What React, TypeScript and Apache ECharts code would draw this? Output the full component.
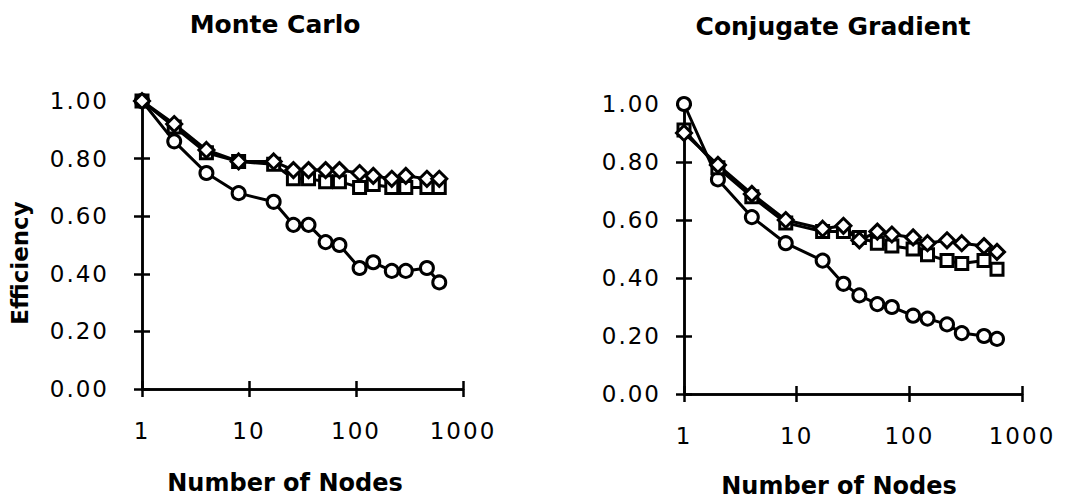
import React, { useEffect, useRef } from 'react';
import * as echarts from 'echarts';

// ---- data ----
const nodes = [1, 2, 4, 8, 17, 26, 36, 52, 70, 108, 145, 216, 292, 460, 600];
const mcCircle = [1.0, 0.86, 0.75, 0.68, 0.65, 0.57, 0.57, 0.51, 0.5, 0.42, 0.44, 0.41, 0.41, 0.42, 0.37];
const mcSquare = [1.0, 0.91, 0.82, 0.79, 0.78, 0.73, 0.73, 0.72, 0.72, 0.7, 0.71, 0.7, 0.7, 0.7, 0.7];
const mcDiamond = [1.0, 0.92, 0.83, 0.79, 0.79, 0.76, 0.76, 0.76, 0.76, 0.75, 0.74, 0.73, 0.74, 0.73, 0.73];
const cgCircle = [1.0, 0.74, 0.61, 0.52, 0.46, 0.38, 0.34, 0.31, 0.3, 0.27, 0.26, 0.24, 0.21, 0.2, 0.19];
const cgSquare = [0.91, 0.78, 0.68, 0.59, 0.56, 0.56, 0.54, 0.52, 0.51, 0.5, 0.48, 0.46, 0.45, 0.46, 0.43];
const cgDiamond = [0.9, 0.79, 0.69, 0.6, 0.57, 0.58, 0.53, 0.56, 0.55, 0.54, 0.52, 0.53, 0.52, 0.51, 0.49];
const titles = ['Monte Carlo', 'Conjugate Gradient'];
const xName = 'Number of Nodes';
const yName = 'Efficiency';
const xMin = 1;
const xMax = 1000;
const yMin = 0;
const yMax = 1;
const yStep = 0.2;

const FONT = '"DejaVu Sans", "Liberation Sans", Arial, sans-serif';
const BLACK = '#000';

const grids = [
  { left: 142, top: 101, width: 321, height: 288, labelMargin: 33 },
  { left: 684, top: 104, width: 338, height: 290, labelMargin: 23 },
];

function makeX(gridIndex: number, inside: boolean) {
  return {
    type: 'log',
    logBase: 10,
    min: xMin,
    max: xMax,
    gridIndex,
    position: 'bottom',
    axisLine: { show: true, lineStyle: { color: BLACK, width: 2.5 } },
    axisTick: { show: true, inside, length: 8, lineStyle: { color: BLACK, width: 2.5 } },
    minorTick: { show: false },
    axisLabel: {
      show: !inside,
      margin: 30,
      color: BLACK,
      fontFamily: FONT,
      fontSize: 23,
      formatter: (v: number) => String(Math.round(v)),
    },
    splitLine: { show: false },
  };
}

function makeY(gridIndex: number, inside: boolean, margin: number) {
  return {
    type: 'value',
    min: yMin,
    max: yMax,
    interval: yStep,
    gridIndex,
    position: 'left',
    axisLine: { show: true, lineStyle: { color: BLACK, width: 2.5 } },
    axisTick: { show: true, inside, length: 8, lineStyle: { color: BLACK, width: 2.5 } },
    axisLabel: {
      show: !inside,
      margin,
      color: BLACK,
      fontFamily: FONT,
      fontSize: 23,
      formatter: (v: number) => v.toFixed(2),
    },
    splitLine: { show: false },
  };
}

function makeSeries(vals: number[], symbol: string, size: number, axisIndex: number) {
  return {
    type: 'line',
    xAxisIndex: axisIndex,
    yAxisIndex: axisIndex,
    data: nodes.map((n, i) => [n, vals[i]]),
    symbol,
    symbolSize: size,
    showAllSymbol: true,
    lineStyle: { color: BLACK, width: 3 },
    itemStyle: { color: '#fff', borderColor: BLACK, borderWidth: 3 },
    emphasis: { disabled: true },
  };
}

function textEl(text: string, x: number, y: number, size: number, rotation = 0) {
  return {
    type: 'text',
    x,
    y,
    rotation,
    style: {
      text,
      fill: BLACK,
      font: `bold ${size}px ${FONT}`,
      textAlign: 'center',
      textVerticalAlign: 'middle',
      align: 'center',
      verticalAlign: 'middle',
    },
  };
}

export default function App() {
  const ref = useRef<HTMLDivElement>(null);
  useEffect(() => {
    const el = ref.current!;
    const chart = echarts.init(el, undefined, { renderer: 'svg' });
    const option: any = {
      animation: false,
      backgroundColor: '#fff',
      grid: grids.map((g) => ({ left: g.left, top: g.top, width: g.width, height: g.height })),
      xAxis: [makeX(0, false), makeX(0, true), makeX(1, false), makeX(1, true)],
      yAxis: [
        makeY(0, false, grids[0].labelMargin),
        makeY(0, true, grids[0].labelMargin),
        makeY(1, false, grids[1].labelMargin),
        makeY(1, true, grids[1].labelMargin),
      ],
      series: [
        makeSeries(mcCircle, 'circle', 13, 0),
        makeSeries(mcSquare, 'rect', 12, 0),
        makeSeries(mcDiamond, 'diamond', 15, 0),
        makeSeries(cgCircle, 'circle', 13, 2),
        makeSeries(cgSquare, 'rect', 12, 2),
        makeSeries(cgDiamond, 'diamond', 15, 2),
      ],
      graphic: [
        textEl(titles[0], 275, 24, 25),
        textEl(titles[1], 833, 26, 25),
        textEl(xName, 285, 483, 24),
        textEl(xName, 839, 486, 24),
        textEl(yName, 20, 263, 23, Math.PI / 2),
      ],
    };
    chart.setOption(option);

    // the reference's tick numerals are slightly letter-spaced
    const tickTexts = new Set<string>();
    [0, 0.2, 0.4, 0.6, 0.8, 1].forEach((v) => tickTexts.add(v.toFixed(2)));
    [1, 10, 100, 1000].forEach((v) => tickTexts.add(String(v)));
    const applySpacing = () => {
      el.querySelectorAll('text').forEach((t) => {
        const s = (t.textContent || '').trim();
        if (tickTexts.has(s)) t.setAttribute('letter-spacing', '2px');
      });
    };
    applySpacing();
    chart.on('finished', applySpacing);
    const timer = setTimeout(applySpacing, 50);
    return () => {
      clearTimeout(timer);
      chart.dispose();
    };
  }, []);
  return (
    <div
      ref={ref}
      style={{ position: 'absolute', left: 0, top: 0, width: 1077, height: 502, background: '#fff' }}
    />
  );
}
